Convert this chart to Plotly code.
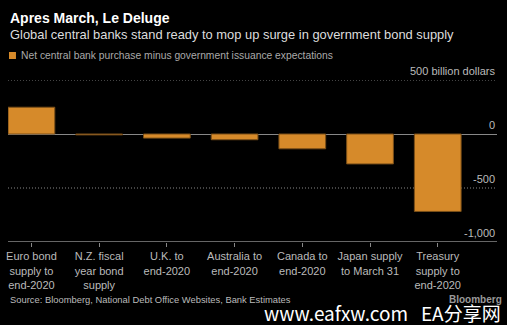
import plotly.graph_objects as go

categories = ["Euro bond<br>supply to<br>end-2020", "N.Z. fiscal<br>year bond<br>supply",
              "U.K. to<br>end-2020", "Australia to<br>end-2020", "Canada to<br>end-2020",
              "Japan supply<br>to March 31", "Treasury<br>supply to<br>end-2020"]
values = [248, -8, -38, -53, -137, -277, -717]
tick_vals = [500, 0, -500, -1000]
tick_text = ["500 billion dollars", "0", "-500", "-1,000"]
grid_vals = [500, -500]

FONT = "Liberation Sans"
ORANGE = "#D68A2A"

# plot area in pixels: x 6..497, y 80..242
def py2paper(py):
    return (242 - py) / 162

def px2paper(px):
    return (px - 6) / 491

fig = go.Figure()
fig.add_trace(go.Bar(
    x=list(range(len(categories))), y=values, width=0.69,
    marker=dict(color=ORANGE, line=dict(color="#7a4f18", width=1)),
    showlegend=False,
))

annotations = []
for v, t in zip(tick_vals, tick_text):
    annotations.append(dict(x=1, xref="paper", y=v, yref="y", text=t, showarrow=False,
                            xanchor="right", yanchor="bottom", yshift=1,
                            font=dict(size=11, color="#bbbbbb", family=FONT)))

texts = [
    ("<b>Apres March, Le Deluge</b>", 6, 18, 14, "#ffffff"),
    ("Global central banks stand ready to mop up surge in government bond supply", 6, 34, 12.9, "#dddddd"),
    ("Net central bank purchase minus government issuance expectations", 17, 55, 10.3, "#aaaaaa"),
    ("Source: Bloomberg, National Debt Office Websites, Bank Estimates", 6, 299, 9.4, "#bbbbbb"),
]
for t, px, py, fs, col in texts:
    annotations.append(dict(x=px2paper(px), xref="paper", y=py2paper(py), yref="paper",
                            text=t, showarrow=False, xanchor="left", yanchor="middle",
                            font=dict(size=fs, color=col, family=FONT)))

annotations.append(dict(x=px2paper(504), xref="paper", y=py2paper(299), yref="paper",
                        text="<b>Bloomberg</b>", showarrow=False, xanchor="right",
                        yanchor="middle", font=dict(size=10, color="#999999", family=FONT)))
annotations.append(dict(x=px2paper(503), xref="paper", y=py2paper(312), yref="paper",
                        text="www.eafxw.com   EA分享网", showarrow=False, xanchor="right",
                        yanchor="middle", font=dict(size=19, color="#ffffff", family="Noto Sans CJK SC")))

shapes = [
    dict(type="line", xref="paper", yref="y", x0=0, x1=1, y0=-1000, y1=-1000,
         line=dict(color="#888888", width=1.5)),
    dict(type="rect", xref="paper", yref="paper",
         x0=px2paper(7), x1=px2paper(14), y0=py2paper(59), y1=py2paper(52),
         fillcolor=ORANGE, line=dict(width=0)),
]
for g in grid_vals:
    shapes.append(dict(type="line", xref="paper", yref="y", x0=0, x1=1, y0=g, y1=g,
                       layer="below", line=dict(color="#888888", width=1, dash="1px,2px")))

fig.update_layout(
    width=507, height=325,
    margin=dict(l=6, r=10, t=80, b=83),
    paper_bgcolor="black", plot_bgcolor="black",
    font=dict(family=FONT, color="#bbbbbb", size=11),
    xaxis=dict(
        range=[-0.346, 6.875], tickmode="array",
        tickvals=list(range(len(categories))), ticktext=categories,
        showgrid=False, zeroline=False, showline=False,
        ticks="outside", ticklen=4, tickcolor="#888888",
        tickfont=dict(size=11, color="#bbbbbb", family=FONT),
    ),
    yaxis=dict(
        range=[-1000, 500], showticklabels=False, showgrid=False,
        zeroline=True, zerolinecolor="#888888", zerolinewidth=1, showline=False,
    ),
    annotations=annotations,
    shapes=shapes,
)

fig.write_html("out.html")
